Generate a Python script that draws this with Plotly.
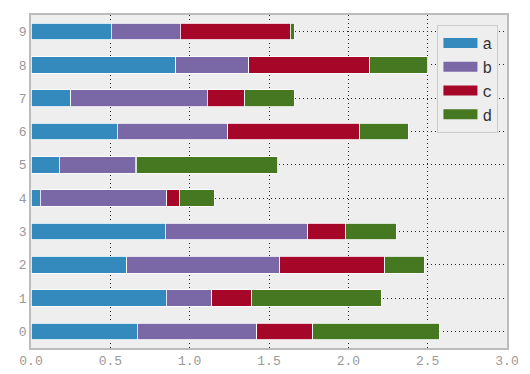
import plotly.graph_objects as go

categories = ["0", "1", "2", "3", "4", "5", "6", "7", "8", "9"]
a = [0.669, 0.852, 0.604, 0.847, 0.057, 0.179, 0.545, 0.252, 0.911, 0.507]
b = [0.753, 0.286, 0.963, 0.897, 0.797, 0.479, 0.694, 0.860, 0.460, 0.435]
c = [0.353, 0.252, 0.662, 0.239, 0.082, 0.004, 0.832, 0.234, 0.764, 0.692]
d = [0.799, 0.818, 0.250, 0.320, 0.219, 0.894, 0.308, 0.313, 0.365, 0.025]
series = {"a": a, "b": b, "c": c, "d": d}
colors = {"a": "#348ABD", "b": "#7A68A6", "c": "#A60628", "d": "#467821"}
x_ticks = [0.0, 0.5, 1.0, 1.5, 2.0, 2.5, 3.0]

fig = go.Figure()
for name, vals in series.items():
    fig.add_trace(go.Bar(
        y=list(range(len(categories))), x=vals, name=name, orientation="h",
        width=0.5, marker=dict(color=colors[name], line=dict(color="white", width=0.8)),
        showlegend=False, legendgroup=name,
    ))
# legend entries drawn as wide patches
for name in series:
    fig.add_trace(go.Scatter(
        x=[None], y=[None], mode="lines", name=name, legendgroup=name,
        line=dict(color=colors[name], width=10), showlegend=True,
    ))

font = "Courier New, Liberation Mono, monospace"
fig.update_layout(
    width=530, height=374,
    margin=dict(l=31, r=23, t=15, b=26),
    barmode="stack",
    paper_bgcolor="white",
    plot_bgcolor="#EEEEEE",
    font=dict(family=font, size=13, color="#777777"),
    showlegend=True,
    legend=dict(
        x=0.982, y=0.97, xanchor="right", yanchor="top",
        bgcolor="#EEEEEE", bordercolor="#CCCCCC", borderwidth=1,
        traceorder="normal",
        font=dict(family=font, size=16, color="#333333"),
        itemwidth=34, tracegroupgap=0,
    ),
    xaxis=dict(
        range=[0, 3], tickvals=x_ticks, ticktext=[f"{v:.1f}" for v in x_ticks],
        showgrid=True, gridcolor="#222222", griddash="1px,3px", gridwidth=1,
        showline=True, linecolor="#BCBCBC", linewidth=1.5, mirror=True,
        zeroline=False, ticks="", tickfont=dict(color="#999999"),
        automargin=False,
    ),
    yaxis=dict(
        range=[-0.5, 9.5], tickvals=list(range(len(categories))), ticktext=categories,
        showgrid=True, gridcolor="#222222", griddash="1px,3px", gridwidth=1,
        showline=True, linecolor="#BCBCBC", linewidth=1.5, mirror=True,
        zeroline=False, ticks="", tickfont=dict(color="#999999"),
        automargin=False,
    ),
)

fig.write_html("out.html", config={"displayModeBar": False},
               post_script="document.body.style.margin='0';")
